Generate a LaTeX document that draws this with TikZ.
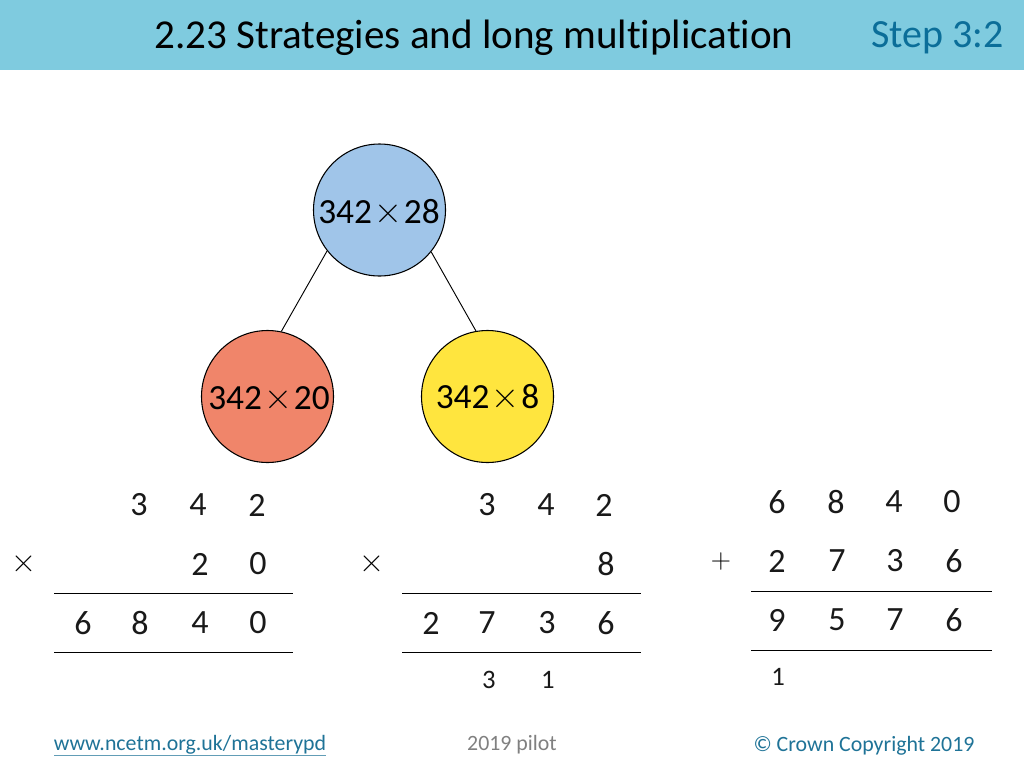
\documentclass[tikz,border=0pt]{standalone}
\usepackage{fontspec}
\setmainfont[Ligatures=NoCommon]{Carlito}
\newfontfamily\symf{Latin Modern Roman}
\definecolor{hdr}{HTML}{7FCBDF}
\definecolor{stepc}{HTML}{0B6E99}
\definecolor{linkc}{HTML}{1F7397}
\definecolor{greyc}{HTML}{808080}
\newcommand{\tms}{\hspace{1.5pt}{\symf\fontsize{29}{29}\selectfont ×}\hspace{1.5pt}}
\tikzset{
  px/.style={x=0.75pt,y=-0.75pt},
  circ/.style={circle,draw=black,line width=0.8pt,minimum size=99pt,inner sep=0pt},
  lab/.style={font=\fontsize{26.5}{28}\selectfont,inner sep=0pt,text=black},
  dig/.style={font=\fontsize{25.5}{27}\selectfont,inner sep=0pt,text=black!90},
  carry/.style={font=\fontsize{20}{22}\selectfont,inner sep=0pt,text=black!90},
  op/.style={font=\symf\fontsize{26}{28}\selectfont,inner sep=0pt,text=black},
  opp/.style={font=\symf\fontsize{21}{24}\selectfont,inner sep=0pt,text=black},
  rule/.style={draw=black,line width=0.75pt},
  conn/.style={draw=black,line width=0.7pt},
  ttl/.style={font=\fontsize{30.8}{34}\selectfont,inner sep=0pt},
  stp/.style={font=\fontsize{30}{34}\selectfont,inner sep=0pt},
  foot/.style={font=\fontsize{16.4}{20}\selectfont,inner sep=0pt}
}
\begin{document}
\begin{tikzpicture}[px]
\useasboundingbox (0,0) rectangle (1024,768);
\fill[hdr] (0,0) rectangle (1024,70);
\node[ttl,text=black] (title) at (474,37.5) {2.23 Strategies and long multiplication};
\node[stp,text=stepc] (step) at (937.5,37.5) {Step 3:2};
\node[circ,fill={rgb,255:red,160;green,197;blue,233}] (top) at (379.5,210) {};
\node[circ,fill={rgb,255:red,240;green,133;blue,106}] (left) at (267.5,396.5) {};
\node[circ,fill={rgb,255:red,255;green,229;blue,62}] (right) at (487.5,396.5) {};
\node[lab] (topl) at (379,212) {342\tms 28};
\node[lab] (leftl) at (269,398) {342\tms 20};
\node[lab] (rightl) at (487.5,397) {342\tms 8};
\draw[conn] (top.218.5) -- (left.78.4);
\draw[conn] (top.-39) -- (right.100.8);
\foreach \n/\x/\y/\t in {a1/139/505/3,a2/198/505/4,a3/257/505/2,a4/200/564/2,a5/258/564/0,a6/83/623/6,a7/140/623/8,a8/200/623/4,a9/258/623/0,
 b1/487/505/3,b2/546/505/4,b3/604/505/2,b4/606/564/8,b6/431/623/2,b7/487/623/7,b8/547/623/3,b9/606/623/6,
 c1/777/502/6,c2/836/502/8,c3/894/502/4,c4/952/502/0,c5/777/561/2,c6/837/561/7,c7/895/561/3,c8/954/561/6,c9/777/620/9,c10/837/620/5,c11/895/620/7,c12/954/620/6}
  \node[dig] (\n) at (\x,\y) {\t};
\node[op] (ax) at (24,564) {×};
\node[op] (bx) at (372,564) {×};
\node[opp] (cx) at (721,562) {+};
\node[carry] (k1) at (489,680) {3};
\node[carry] (k2) at (548,680) {1};
\node[carry] (k3) at (778,677) {1};
\coordinate (r1a) at (54,593); \coordinate (r1b) at (293,593);
\coordinate (r2a) at (54,652); \coordinate (r2b) at (293,652);
\coordinate (r3a) at (402,593); \coordinate (r3b) at (641,593);
\coordinate (r4a) at (402,652); \coordinate (r4b) at (641,652);
\coordinate (r5a) at (751,591); \coordinate (r5b) at (992,591);
\coordinate (r6a) at (751,650); \coordinate (r6b) at (992,650);
\draw[rule] (r1a)--(r1b); \draw[rule] (r2a)--(r2b); \draw[rule] (r3a)--(r3b);
\draw[rule] (r4a)--(r4b); \draw[rule] (r5a)--(r5b); \draw[rule] (r6a)--(r6b);
\node[foot,text=linkc] (url) at (190,745) {www.ncetm.org.uk/masterypd};
\coordinate (ua) at (54,755.5); \coordinate (ub) at (326,755.5);
\draw[draw=linkc!70,line width=0.8pt] (ua)--(ub);
\node[foot,text=greyc] (pilot) at (512,745) {2019 pilot};
\node[foot,text=linkc] (copy) at (864,746) {© Crown Copyright 2019};
\end{tikzpicture}
\end{document}
